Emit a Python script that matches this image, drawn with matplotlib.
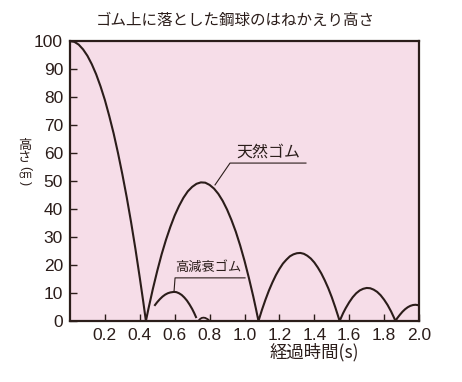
import matplotlib.pyplot as plt

plt.rcParams['font.family'] = ['Liberation Sans', 'Noto Sans CJK JP', 'DejaVu Sans']

INK = '#2b1d1a'
PINK = '#f6dde8'
JP = ['Noto Sans CJK JP', 'DejaVu Sans']

# 天然ゴム (natural rubber) - heights
natural_t = [0, 0.025, 0.05, 0.075, 0.1, 0.125, 0.15, 0.175, 0.2, 0.225, 0.25, 0.275,
             0.3, 0.325, 0.35, 0.375, 0.4, 0.42, 0.435,
             0.45, 0.475, 0.5, 0.525, 0.55, 0.575, 0.6, 0.625, 0.65, 0.675, 0.7, 0.725,
             0.75, 0.775, 0.8, 0.825, 0.85, 0.875, 0.9, 0.925, 0.95, 0.975, 1.0, 1.025,
             1.05, 1.065, 1.08,
             1.09, 1.1, 1.12, 1.14, 1.16, 1.18, 1.2, 1.22, 1.24, 1.26, 1.28, 1.3, 1.32,
             1.34, 1.36, 1.38, 1.4, 1.42, 1.44, 1.46, 1.48, 1.5, 1.52, 1.535, 1.545,
             1.555, 1.565, 1.58, 1.6, 1.62, 1.64, 1.66, 1.68, 1.7, 1.72, 1.74, 1.76,
             1.78, 1.8, 1.82, 1.84, 1.855, 1.865,
             1.875, 1.89, 1.905, 1.92, 1.935, 1.95, 1.965, 1.98, 2.0]
natural_h = [100, 99.7, 98.7, 97.0, 94.7, 91.7, 88.1, 83.8, 78.9, 73.2, 67.0, 60.0,
             52.4, 44.2, 35.3, 25.7, 15.4, 6.8, 0,
             4.5, 11.5, 17.9, 23.8, 29.0, 33.6, 37.7, 41.1, 44.0, 46.3, 47.9, 49.0,
             49.5, 49.4, 48.6, 47.3, 45.4, 42.9, 39.8, 36.1, 31.9, 27.0, 21.5, 15.4,
             8.8, 4.5, 0,
             2.0, 4.0, 7.6, 10.9, 13.8, 16.4, 18.6, 20.5, 21.9, 23.1, 23.8, 24.2, 24.3,
             24.0, 23.3, 22.3, 20.9, 19.1, 17.0, 14.5, 11.7, 8.5, 4.9, 2.0, 0,
             1.4, 2.8, 4.6, 6.7, 8.5, 9.9, 10.9, 11.5, 11.8, 11.7, 11.2, 10.4,
             9.2, 7.6, 5.7, 3.4, 1.4, 0,
             1.0, 2.2, 3.3, 4.2, 4.9, 5.4, 5.7, 5.8, 5.6]

# 高減衰ゴム (high damping rubber)
damping_t = [0.487, 0.5, 0.515, 0.53, 0.545, 0.56, 0.575, 0.596, 0.61, 0.625, 0.64,
             0.655, 0.67, 0.685, 0.7, 0.712, 0.722]
damping_h = [5.7, 6.75, 7.8, 8.7, 9.4, 9.9, 10.2, 10.4, 10.3, 9.9, 9.3,
             8.4, 7.3, 5.9, 4.3, 2.8, 1.4]
bump_t = [0.735, 0.745, 0.755, 0.765, 0.775, 0.79, 0.80]
bump_h = [0, 0.7, 1.1, 1.2, 1.1, 0.6, 0]

x_ticks = [0.2, 0.4, 0.6, 0.8, 1.0, 1.2, 1.4, 1.6, 1.8, 2.0]
y_ticks = [0, 10, 20, 30, 40, 50, 60, 70, 80, 90, 100]

fig = plt.figure(figsize=(4.62, 3.82), dpi=100)
ax = fig.add_axes([0.1515, 0.1597, 0.7555, 0.733])
ax.set_facecolor(PINK)

ax.plot(natural_t, natural_h, color=INK, lw=1.5, solid_joinstyle='round')
ax.plot(damping_t, damping_h, color=INK, lw=1.5, solid_joinstyle='round')
ax.plot(bump_t, bump_h, color=INK, lw=1.3)

ax.set_xlim(0, 2.0)
ax.set_ylim(0, 100)
ax.set_xticks(x_ticks)
ax.set_xticklabels([f'{v:.1f}' for v in x_ticks])
ax.set_yticks(y_ticks)
ax.tick_params(direction='in', length=5, width=1.0, color=INK,
               labelcolor=INK, labelsize=12.5, pad=5)
for s in ax.spines.values():
    s.set_color(INK)
    s.set_linewidth(1.6)

# leader lines and labels
ax.plot([0.831, 0.917, 1.352], [48.6, 56.4, 56.4], color=INK, lw=0.8)
ax.text(1.135, 60.3, '天然ゴム', ha='center', va='center', fontsize=11.5, color=INK,
        family=JP)
ax.plot([0.596, 0.602, 1.003], [10.4, 15.4, 15.4], color=INK, lw=0.8)
ax.text(0.795, 19.0, '高減衰ゴム', ha='center', va='center', fontsize=9.5, color=INK,
        family=JP)

fig.text(0.51, 0.947, 'ゴム上に落とした鋼球のはねかえり高さ', ha='center', va='center',
         fontsize=11.2, color=INK, family=JP)
fig.text(0.68, 0.078, '経過時間(s)', ha='center', va='center', fontsize=12.5, color=INK,
         family=JP)

# vertical y label: 高さ(cm) written top to bottom
ylab_x = 25 / 462
fig.text(ylab_x, 1 - 145 / 382, '高', ha='center', va='center', fontsize=9.5,
         color=INK, family=JP)
fig.text(ylab_x, 1 - 157.5 / 382, 'さ', ha='center', va='center', fontsize=9.5,
         color=INK, family=JP)
fig.text(ylab_x, 1 - 168 / 382, '(', ha='center', va='center', fontsize=9,
         rotation=-90, color=INK, family=['Liberation Sans'])
fig.text(ylab_x, 1 - 175.5 / 382, 'cm', ha='center', va='center', fontsize=7.5,
         color=INK, family=['Liberation Sans'])
fig.text(ylab_x, 1 - 183 / 382, ')', ha='center', va='center', fontsize=9,
         rotation=-90, color=INK, family=['Liberation Sans'])

fig.savefig('out.png', dpi=100)
